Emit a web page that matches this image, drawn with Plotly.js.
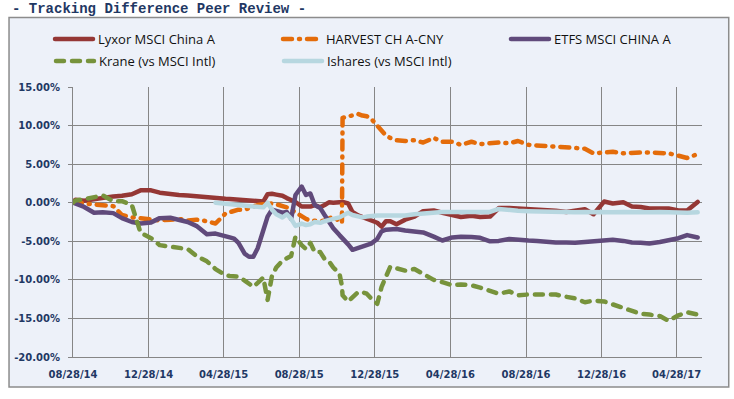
<!DOCTYPE html>
<html><head><meta charset="utf-8">
<script src="https://cdn.plot.ly/plotly-3.0.1.min.js"></script>
<style>
html,body{margin:0;padding:0;background:#fff;}
#chart{width:734px;height:399px;}
path.js-line{stroke-linecap:round;stroke-linejoin:round;}
</style></head><body><div id="chart"></div>
<script>
const dates = ['2014-08-28','2014-09-01','2014-09-15','2014-10-01','2014-10-15','2014-11-01','2014-11-15','2014-12-01','2014-12-15',
'2015-01-01','2015-01-15','2015-02-01','2015-02-15','2015-03-01','2015-03-15','2015-04-01','2015-04-15','2015-05-01','2015-05-08','2015-05-15','2015-05-22','2015-06-01','2015-06-08','2015-06-15','2015-06-22','2015-07-01','2015-07-08','2015-07-15','2015-07-22','2015-08-01','2015-08-08','2015-08-15','2015-08-22','2015-09-01','2015-09-08','2015-09-15','2015-09-22','2015-10-01','2015-10-08','2015-10-15','2015-10-22','2015-11-01','2015-11-05','2015-11-06','2015-11-15','2015-11-22','2015-12-01','2015-12-08','2015-12-15','2015-12-22',
'2016-01-01','2016-01-08','2016-01-15','2016-01-22','2016-02-01','2016-02-15','2016-03-01','2016-03-15','2016-04-01','2016-04-15','2016-05-01','2016-05-15','2016-06-01','2016-06-15','2016-07-01','2016-07-15','2016-08-01','2016-08-15','2016-09-01','2016-09-15','2016-10-01','2016-10-15','2016-11-01','2016-11-15','2016-12-01','2016-12-15',
'2017-01-01','2017-01-15','2017-02-01','2017-02-15','2017-03-01','2017-03-15','2017-04-01','2017-04-15','2017-05-01','2017-05-15','2017-06-01'];

const lyxor = [0, 0.4, 0.25, 0.45, 0.7, 0.82, 0.9, 1.1, 1.6,
 1.6, 1.3, 1.1, 1.0, 0.95, 0.82, 0.7, 0.63, 0.5, 0.48, 0.43, 0.38, 0.3, 0.22, 0.17, 0.12, 0.15, 1.1, 1.15, 1.05, 0.9, 0.6, 0.4, 0.1, -0.5, -0.45, -0.5, -0.3, -0.6, -0.3, 0.05, 0.0, 0.1, 0.1, 0.1, -0.1, -1.2, -1.65, -1.9, -2.0, -2.3,
 -2.6, -3.1, -2.4, -2.4, -2.8, -2.2, -1.8, -1.1, -1.0, -1.3, -1.65, -1.85, -1.7, -1.85, -1.8, -0.7, -0.7, -0.75, -0.8, -0.85, -0.95, -1.05, -1.2, -1.0, -0.85, -1.5,
 0.15, -0.1, 0.05, -0.5, -0.55, -0.75, -0.75, -0.75, -1.0, -1.0, 0.1];

const harvest = [0, 0.1, -0.1, -0.2, -0.4, -0.45, -1.6, -1.9, -2.0,
 -2.2, -2.3, -2.2, -2.1, -2.3, -2.2, -2.4, -2.7, -1.4, -1.2, -1.0, -0.9, -0.9, -0.7, -0.5, -0.3, -0.2, -0.1, -0.1, -0.2, -0.4, -0.6, -0.9, -1.3, -1.8, -2.1, -2.3, -2.4, -2.4, -2.3, -2.0, -1.8, -2.4, -2.6, 11.0, 11.2, 11.4, 11.5, 11.3, 11.2, 10.9,
 10.0, 9.2, 8.7, 8.4, 8.1, 8.0, 8.1, 7.8, 8.4, 7.9, 7.9, 7.5, 7.9, 7.6, 7.7, 7.8, 7.7, 8.0, 7.5, 7.4, 7.3, 7.3, 7.2, 7.1, 7.0, 6.4,
 6.5, 6.6, 6.4, 6.5, 6.5, 6.5, 6.4, 6.4, 6.1, 5.8, 6.3];

const etfs = [0, -0.1, -0.55, -1.3, -1.25, -1.35, -2.0, -2.5, -2.7,
 -2.55, -2.0, -1.95, -2.2, -2.5, -3.0, -4.1, -4.0, -4.45, -4.5, -4.65, -5.2, -6.6, -7.0, -7.0, -5.9, -3.6, -1.8, -0.9, -1.1, -1.3, -1.2, -2.1, 1.0, 2.1, 1.0, 1.2, -0.3, -0.7, -1.6, -2.5, -3.3, -4.2, -4.5, -4.6, -5.4, -6.1, -5.9, -5.7, -5.6, -5.3,
 -4.7, -3.7, -3.5, -3.4, -3.4, -3.6, -3.8, -3.85, -4.4, -4.9, -4.5, -4.4, -4.45, -4.55, -5.0, -4.95, -4.7, -4.85, -4.9, -4.95, -5.1, -5.15, -5.15, -5.2, -5.1, -5.05,
 -4.9, -4.8, -4.95, -5.15, -5.2, -5.3, -5.1, -4.85, -4.6, -4.2, -4.5];

const krane = [0, 0.3, 0.45, 0.75, 0.95, 0.2, 0.2, -0.3, -3.9,
 -4.6, -5.5, -5.7, -5.8, -6.0, -6.9, -7.6, -8.6, -9.4, -9.5, -9.5, -9.6, -10.1, -10.5, -10.9, -10.4, -9.7, -12.6, -9.5, -8.4, -7.5, -7.2, -6.9, -4.4, -5.5, -6.0, -5.2, -6.4, -6.4, -7.3, -7.6, -8.4, -9.2, -10.8, -12.0, -12.8, -12.2, -11.6, -11.6, -11.8, -12.4,
 -13.1, -10.9, -9.7, -8.3, -8.5, -8.8, -8.6, -9.3, -10.0, -10.3, -10.7, -10.6, -10.7, -11.0, -11.5, -11.8, -11.5, -12.0, -11.9, -11.9, -11.9, -11.9, -12.2, -12.4, -12.9, -12.7,
 -12.8, -13.2, -13.6, -14.0, -14.4, -14.5, -14.7, -15.3, -14.6, -14.2, -14.5];

const ishares = [null, null, null, null, null, null, null, null, null,
 null, null, null, null, null, null, null, 0.0, -0.1, -0.15, -0.2, -0.25, -0.35, -0.4, -0.45, -0.5, -0.6, 0.0, -0.9, -1.5, -1.9, -1.5, -2.1, -3.0, -2.7, -2.9, -2.8, -2.5, -2.6, -2.4, -2.3, -2.1, -1.9, -1.7, -1.6, -1.3, -1.6, -1.8, -1.9, -1.8, -1.7,
 -1.65, -1.65, -1.65, -1.6, -1.6, -1.65, -1.5, -1.4, -1.25, -1.2, -1.2, -1.2, -1.2, -1.2, -1.2, -0.8, -1.0, -1.05, -1.1, -1.15, -1.2, -1.15, -1.2, -1.25, -1.2, -1.25,
 -1.2, -1.25, -1.2, -1.25, -1.2, -1.25, -1.2, -1.25, -1.25, -1.3, -1.25];

const seriesNames = ['Lyxor MSCI China A', 'HARVEST CH A-CNY', 'ETFS MSCI CHINA A', 'Krane (vs MSCI Intl)', 'Ishares (vs MSCI Intl)'];
const xTickDates = ['2014-08-28','2014-12-28','2015-04-28','2015-08-28','2015-12-28','2016-04-28','2016-08-28','2016-12-28','2017-04-28'];
const xTickLabels = ['08/28/14','12/28/14','04/28/15','08/28/15','12/28/15','04/28/16','08/28/16','12/28/16','04/28/17'];
const yTickVals = [-20, -15, -10, -5, 0, 5, 10, 15];
const yTickLabels = ['-20.00%','-15.00%','-10.00%','-5.00%','0.00%','5.00%','10.00%','15.00%'];
const chartTitle = '- Tracking Difference Peer Review -';

const values = [lyxor, harvest, etfs, krane, ishares];
const colors = ['#953735', '#E46C0A', '#604A7B', '#77933C', '#B7D7E0'];
const dashes = ['solid', '9px,7px,1px,7px', 'solid', '8px,8px', 'solid'];
const legendIds = ['legend', 'legend', 'legend', 'legend2', 'legend2'];

const traces = values.map((v, i) => ({
  type: 'scatter', mode: 'lines', x: dates, y: v, name: seriesNames[i], legend: legendIds[i],
  line: {color: colors[i], width: 4.5, dash: dashes[i]},
  connectgaps: false, hoverinfo: 'skip'
}));

const tickFont = {family: 'DejaVu Sans', size: 10, color: '#1F3864', weight: 'bold'};
const legendBase = {orientation: 'h', x: -0.035, xanchor: 'left', yanchor: 'middle',
  font: {family: 'Open Sans', size: 13, color: '#111'}, itemwidth: 38,
  entrywidth: 175, entrywidthmode: 'pixels', bgcolor: 'rgba(0,0,0,0)', traceorder: 'normal', borderwidth: 0};
const layout = {
  width: 734, height: 399,
  margin: {l: 73, r: 32, t: 87, b: 42},
  paper_bgcolor: '#ffffff', plot_bgcolor: 'rgba(0,0,0,0)',
  showlegend: true,
  legend: Object.assign({}, legendBase, {y: 1.1778}),
  legend2: Object.assign({}, legendBase, {y: 1.0963}),
  xaxis: {type: 'date', range: ['2014-08-28', '2017-06-08'], tickmode: 'array', tickvals: xTickDates, ticktext: xTickLabels,
    showgrid: true, gridcolor: '#868686', gridwidth: 1, showline: true, linecolor: '#868686', linewidth: 1,
    ticks: '', tickfont: tickFont, zeroline: false, fixedrange: true, ticklabelstandoff: 8},
  yaxis: {range: [-20, 15], tickmode: 'array', tickvals: yTickVals, ticktext: yTickLabels,
    showgrid: true, gridcolor: '#868686', gridwidth: 1, showline: true, linecolor: '#868686', linewidth: 1,
    ticks: 'outside', ticklen: 4, tickcolor: '#868686', tickfont: tickFont, zeroline: false, fixedrange: true, ticklabelstandoff: 6},
  shapes: [{type: 'rect', xref: 'paper', yref: 'paper', x0: -0.1017, x1: 1.0425, y0: -0.1111, y1: 1.2574,
    fillcolor: '#EDF1F9', line: {color: '#8C8C8C', width: 1.5}, layer: 'below'}],
  annotations: [{text: '<b>' + chartTitle + '</b>', xref: 'paper', yref: 'paper', x: -0.1, xanchor: 'left', y: 1.289, yanchor: 'middle',
    showarrow: false, font: {family: 'Liberation Mono', size: 14, color: '#1F3864'}}]
};

Plotly.newPlot('chart', traces, layout, {staticPlot: true, displayModeBar: false});
</script></body></html>
